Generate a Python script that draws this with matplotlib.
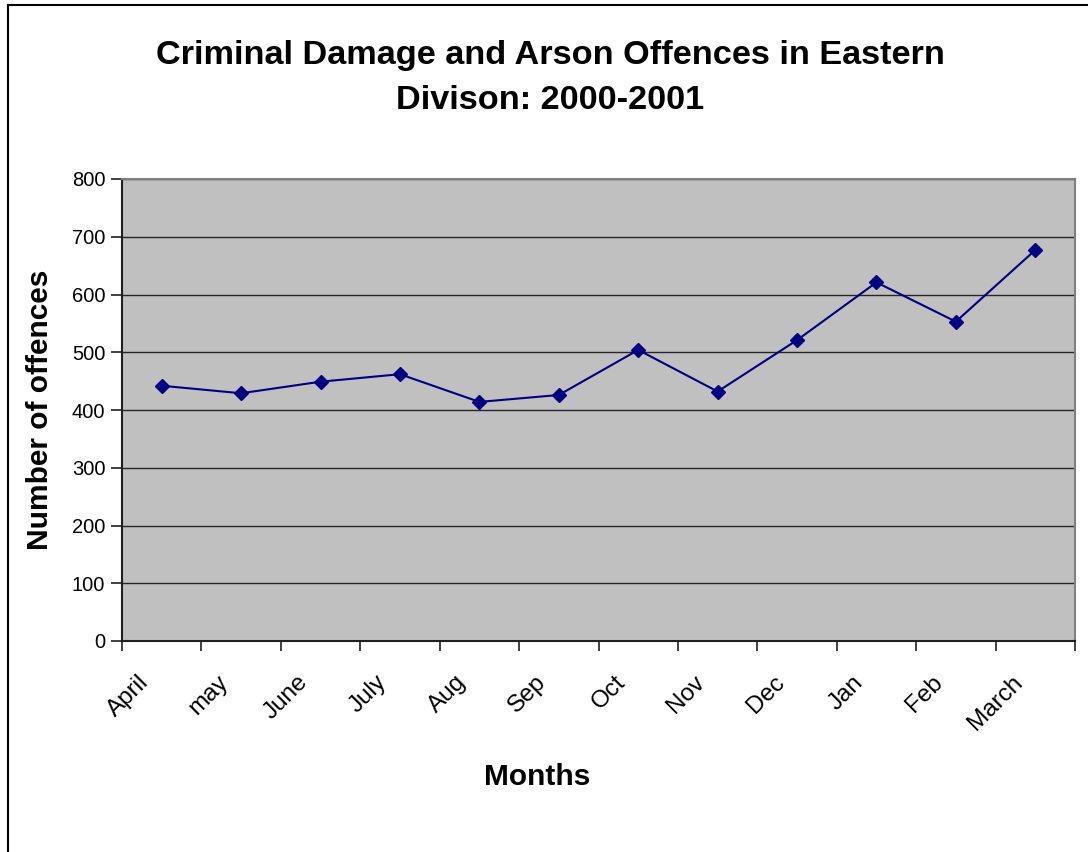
import matplotlib
matplotlib.use("Agg")
import matplotlib.pyplot as plt
from matplotlib.lines import Line2D
from matplotlib.ticker import FixedLocator, NullFormatter
from matplotlib.transforms import ScaledTranslation

months = ["April", "may", "June", "July", "Aug", "Sep", "Oct", "Nov", "Dec", "Jan", "Feb", "March"]
offences = [442, 429, 449, 462, 414, 426, 504, 432, 521, 621, 553, 677]
y_ticks = [0, 100, 200, 300, 400, 500, 600, 700, 800]

plt.rcParams["font.family"] = ["Liberation Sans", "DejaVu Sans"]

fig = plt.figure(figsize=(10.88, 8.52), dpi=100)
ax = fig.add_axes([122 / 1088, 1 - 641 / 852, (1075 - 122) / 1088, (641 - 179) / 852])

ax.set_facecolor("#C0C0C0")
x = list(range(len(months)))
ax.plot(x, offences, color="#000080", linewidth=1.5, marker="D", markersize=7.5,
        markerfacecolor="#000080", markeredgecolor="#000080", zorder=3)

ax.set_xlim(-0.5, len(months) - 0.5)
ax.set_ylim(0, 800)
ax.set_yticks(y_ticks)
ax.yaxis.grid(True, color="#262626", linewidth=1.0)
ax.set_axisbelow(True)

# category boundaries carry the tick marks, labels sit at category centres
ax.xaxis.set_major_locator(FixedLocator([i - 0.5 for i in range(len(months) + 1)]))
ax.xaxis.set_major_formatter(NullFormatter())
ax.xaxis.set_minor_locator(FixedLocator(x))
ax.set_xticklabels(months, minor=True, rotation=45, ha="right", rotation_mode="anchor",
                   fontsize=17.5)
ax.tick_params(axis="x", which="minor", length=0, pad=16)
ax.tick_params(axis="x", which="major", length=7, width=1.2, color="#202020", direction="out")
ax.tick_params(axis="y", length=8, width=1.2, color="#202020", labelsize=14.5, pad=4)

shift = ScaledTranslation(-24 / 100, -8 / 100, fig.dpi_scale_trans)
for lbl in ax.xaxis.get_minorticklabels():
    lbl.set_transform(lbl.get_transform() + shift)

for side in ["left", "bottom"]:
    ax.spines[side].set_color("#202020")
    ax.spines[side].set_linewidth(1.5)
for side in ["top", "right"]:
    ax.spines[side].set_color("#808080")
    ax.spines[side].set_linewidth(1.5)

fig.text(40 / 1088, 1 - 410 / 852, "Number of offences", rotation=90, ha="center", va="center",
         fontsize=21.5, fontweight="bold")
fig.text(537 / 1088, 1 - 777 / 852, "Months", ha="center", va="center",
         fontsize=21.5, fontweight="bold")

fig.text(550 / 1088, 1 - 78 / 852, "Criminal Damage and Arson Offences in Eastern\nDivison: 2000-2001",
         ha="center", va="center", fontsize=24.7, fontweight="bold", linespacing=1.6)

# outer chart frame (left and top edges visible)
fig.add_artist(Line2D([8 / 1088, 8 / 1088], [0, 1 - 5 / 852], transform=fig.transFigure,
                      color="black", linewidth=1.5))
fig.add_artist(Line2D([8 / 1088, 1], [1 - 5 / 852, 1 - 5 / 852], transform=fig.transFigure,
                      color="black", linewidth=1.5))

fig.savefig("out.png", dpi=100, facecolor="white")
